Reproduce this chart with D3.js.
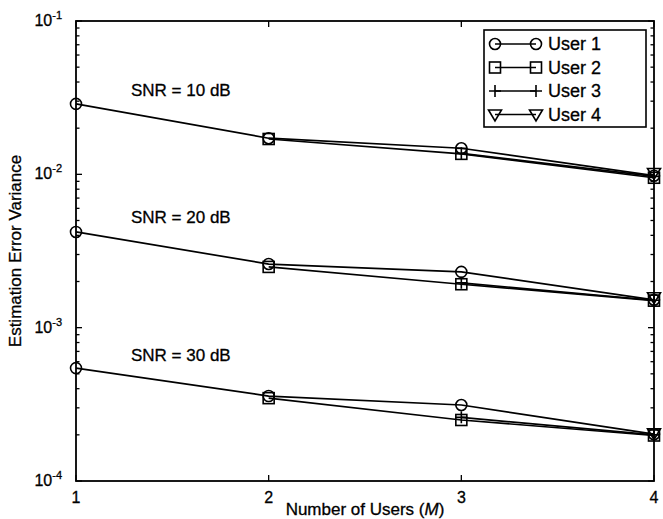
<!DOCTYPE html>
<html>
<head>
<meta charset="utf-8">
<script src="https://cdn.jsdelivr.net/npm/d3@7"></script>
<style>
body { margin: 0; background: #fff; }
text { font-family: "Liberation Sans", Arial, sans-serif; fill: #000; stroke: #000; stroke-width: 0.3px; }
</style>
</head>
<body>
<script>
var svgWidth = 663;
var svgHeight = 519;
var margin = {left: 76, right: 9, top: 21, bottom: 38};

var users = ['User 1', 'User 2', 'User 3', 'User 4'];
var markers = ['circle', 'square', 'plus', 'triangle'];
var xTicks = [1, 2, 3, 4];
var yTicks = [1e-4, 1e-3, 1e-2, 1e-1];
var yTickExp = ['-4', '-3', '-2', '-1'];
var snrLabels = ['SNR = 10 dB', 'SNR = 20 dB', 'SNR = 30 dB'];
var snrLabelAt = [0.0325, 0.0048, 0.00061];

// each user starts at M = user index + 1
var snr10 = [
	[0.0288, 0.0172, 0.0148, 0.0098],
	[0.0170, 0.0136, 0.0095],
	[0.0137, 0.0097],
	[0.0102]
];
var snr20 = [
	[0.00421, 0.0026, 0.00231, 0.00152],
	[0.00249, 0.00192, 0.0015],
	[0.00196, 0.00151],
	[0.00158]
];
var snr30 = [
	[0.000545, 0.000358, 0.000313, 0.000202],
	[0.000347, 0.00025, 0.000198],
	[0.00026, 0.0002],
	[0.000205]
];
var allSnr = [snr10, snr20, snr30];

var w = svgWidth - margin.left - margin.right;
var h = svgHeight - margin.top - margin.bottom;

var svg = d3.select('body').append('svg')
	.attr('width', svgWidth)
	.attr('height', svgHeight);

var g = svg.append('g').attr('transform', 'translate(' + margin.left + ',' + margin.top + ')');

var x = d3.scaleLinear().domain([1, 4]).range([0, w]);
var y = d3.scaleLog().domain([1e-4, 1e-1]).range([h, 0]);

// minor ticks for log axis
var minor = [];
[1e-4, 1e-3, 1e-2].forEach(function(d){
	for (var k = 2; k < 10; k++) minor.push(d * k);
});

// ticks inward on all four sides
function ticksY(xpos, dir){
	g.selectAll(null).data(yTicks).enter().append('line')
		.attr('x1', xpos).attr('x2', xpos + dir * 6)
		.attr('y1', function(d){ return y(d); }).attr('y2', function(d){ return y(d); })
		.attr('stroke', '#000').attr('stroke-width', 1.3);
	g.selectAll(null).data(minor).enter().append('line')
		.attr('x1', xpos).attr('x2', xpos + dir * 3.5)
		.attr('y1', function(d){ return y(d); }).attr('y2', function(d){ return y(d); })
		.attr('stroke', '#000').attr('stroke-width', 1.3);
}
ticksY(0, 1);
ticksY(w, -1);

function ticksX(ypos, dir){
	g.selectAll(null).data(xTicks).enter().append('line')
		.attr('x1', function(d){ return x(d); }).attr('x2', function(d){ return x(d); })
		.attr('y1', ypos).attr('y2', ypos + dir * 6)
		.attr('stroke', '#000').attr('stroke-width', 1.3);
}
ticksX(h, -1);
ticksX(0, 1);

g.append('rect').attr('width', w).attr('height', h)
	.attr('fill', 'none').attr('stroke', '#000').attr('stroke-width', 1.8);

// tick labels
g.selectAll(null).data(xTicks).enter().append('text')
	.attr('x', function(d){ return x(d); })
	.attr('y', h + 22)
	.attr('text-anchor', 'middle')
	.style('font-size', '16px')
	.text(function(d){ return d; });

var yl = g.selectAll(null).data(yTicks).enter().append('text')
	.attr('x', -14)
	.attr('y', function(d){ return y(d) + 5; })
	.attr('text-anchor', 'end')
	.style('font-size', '16px');
yl.append('tspan').text('10');
yl.append('tspan').attr('dy', -7).style('font-size', '11px')
	.text(function(d, i){ return yTickExp[i]; });

// axis titles
var xt = svg.append('text')
	.attr('x', margin.left + w / 2)
	.attr('y', svgHeight - 4)
	.attr('text-anchor', 'middle')
	.style('font-size', '17px');
xt.append('tspan').text('Number of Users (');
xt.append('tspan').style('font-style', 'italic').text('M');
xt.append('tspan').text(')');

svg.append('text')
	.attr('transform', 'translate(21,' + (margin.top + h / 2) + ') rotate(-90)')
	.attr('text-anchor', 'middle')
	.style('font-size', '17px')
	.text('Estimation Error Variance');

// marker drawing
function drawMarker(sel, type, cx, cy){
	if (type === 'circle') {
		sel.append('circle').attr('cx', cx).attr('cy', cy).attr('r', 5.5)
			.attr('fill', 'none').attr('stroke', '#000').attr('stroke-width', 1.6);
	} else if (type === 'square') {
		sel.append('rect').attr('x', cx - 5.5).attr('y', cy - 5.5).attr('width', 11).attr('height', 11)
			.attr('fill', 'none').attr('stroke', '#000').attr('stroke-width', 1.6);
	} else if (type === 'plus') {
		sel.append('path').attr('d', 'M' + (cx - 6) + ',' + cy + 'H' + (cx + 6) + 'M' + cx + ',' + (cy - 6) + 'V' + (cy + 6))
			.attr('stroke', '#000').attr('stroke-width', 1.6);
	} else {
		sel.append('path').attr('d', 'M' + (cx - 6.5) + ',' + (cy - 4.5) + 'H' + (cx + 6.5) + 'L' + cx + ',' + (cy + 6.5) + 'Z')
			.attr('fill', 'none').attr('stroke', '#000').attr('stroke-width', 1.6);
	}
}

var line = d3.line()
	.x(function(d){ return x(d.m); })
	.y(function(d){ return y(d.v); });

allSnr.forEach(function(set){
	set.forEach(function(vals, u){
		var pts = vals.map(function(v, i){ return {m: u + 1 + i, v: v}; });
		g.append('path').datum(pts).attr('d', line)
			.attr('fill', 'none').attr('stroke', '#000').attr('stroke-width', 1.7);
		pts.forEach(function(p){ drawMarker(g, markers[u], x(p.m), y(p.v)); });
	});
});

// SNR labels
g.selectAll(null).data(snrLabels).enter().append('text')
	.attr('x', 55)
	.attr('y', function(d, i){ return y(snrLabelAt[i]); })
	.style('font-size', '17px')
	.text(function(d){ return d; });

// legend
var lg = g.append('g').attr('transform', 'translate(' + (w - 170) + ',9)');
lg.append('rect').attr('width', 162).attr('height', 97)
	.attr('fill', '#fff').attr('stroke', '#000').attr('stroke-width', 1.6);
users.forEach(function(u, i){
	var ly = 14 + i * 23.5;
	lg.append('line').attr('x1', 11).attr('x2', 52).attr('y1', ly).attr('y2', ly)
		.attr('stroke', '#000').attr('stroke-width', 1.6);
	drawMarker(lg, markers[i], 11, ly);
	drawMarker(lg, markers[i], 52, ly);
	lg.append('text').attr('x', 64).attr('y', ly + 6).style('font-size', '18px').text(u);
});
</script>
</body>
</html>
